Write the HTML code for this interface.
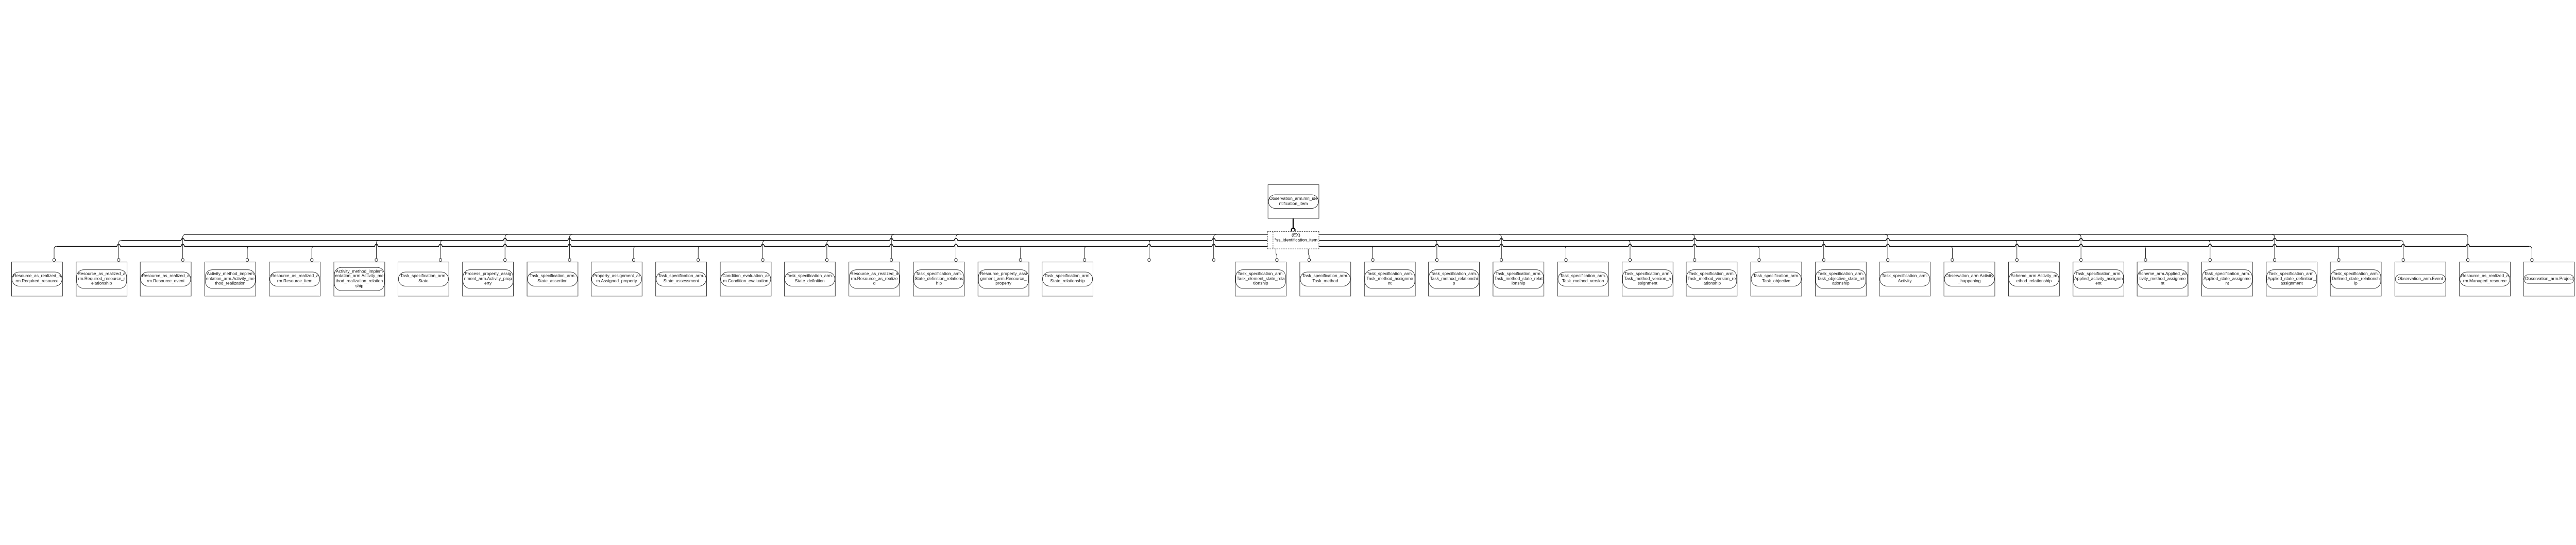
<!DOCTYPE html>
<html><head><meta charset="utf-8">
<style>
html,body{margin:0;padding:0;background:#fff;overflow:hidden;}
#w{position:absolute;left:0;top:0;width:5667px;height:1058px;transform-origin:0 0;font-family:"Liberation Sans",Arial,sans-serif;}
.b{position:absolute;top:576px;width:113px;height:76px;border:1px solid #222;box-sizing:border-box;display:flex;align-items:center;background:#fff;}
.p{width:100%;border:1px solid #222;border-radius:16px;box-sizing:border-box;font-size:9.5px;line-height:10.7px;text-align:center;word-break:break-all;padding:4px 1px;color:#111;}
svg{position:absolute;left:0;top:0;}
.dash{position:absolute;left:2788px;top:509px;width:114px;height:39px;border:1px dashed #444;box-sizing:border-box;font-size:9.5px;line-height:11px;text-align:center;word-break:break-all;padding:2px 2px 0 14px;background:#fff;}
.dash:before{content:"";position:absolute;left:11px;top:0;bottom:0;border-left:1px dashed #444;}
</style></head><body>
<div id="w">
<svg id="s" width="5667" height="1058"></svg>

<div class="b" style="left:2789px;top:406px;height:75px"><div class="p">Observation_arm.mri_identification_item</div></div>
<div class="dash">(EX)<br>*ss_identification_item</div>

<div class="b" style="left:25px"><div class="p">Resource_as_realized_arm.Required_resource</div></div>
<div class="b" style="left:167px"><div class="p">Resource_as_realized_arm.Required_resource_relationship</div></div>
<div class="b" style="left:308px"><div class="p">Resource_as_realized_arm.Resource_event</div></div>
<div class="b" style="left:450px"><div class="p">Activity_method_implementation_arm.Activity_method_realization</div></div>
<div class="b" style="left:592px"><div class="p">Resource_as_realized_arm.Resource_item</div></div>
<div class="b" style="left:734px"><div class="p">Activity_method_implementation_arm.Activity_method_realization_relationship</div></div>
<div class="b" style="left:875px"><div class="p">Task_specification_arm.State</div></div>
<div class="b" style="left:1017px"><div class="p">Process_property_assignment_arm.Activity_property</div></div>
<div class="b" style="left:1159px"><div class="p">Task_specification_arm.State_assertion</div></div>
<div class="b" style="left:1300px"><div class="p">Property_assignment_arm.Assigned_property</div></div>
<div class="b" style="left:1442px"><div class="p">Task_specification_arm.State_assessment</div></div>
<div class="b" style="left:1584px"><div class="p">Condition_evaluation_arm.Condition_evaluation</div></div>
<div class="b" style="left:1725px"><div class="p">Task_specification_arm.State_definition</div></div>
<div class="b" style="left:1867px"><div class="p">Resource_as_realized_arm.Resource_as_realized</div></div>
<div class="b" style="left:2009px"><div class="p">Task_specification_arm.State_definition_relationship</div></div>
<div class="b" style="left:2151px"><div class="p">Resource_property_assignment_arm.Resource_property</div></div>
<div class="b" style="left:2292px"><div class="p">Task_specification_arm.State_relationship</div></div>

<div class="b" style="left:2717px"><div class="p">Task_specification_arm.Task_element_state_relationship</div></div>
<div class="b" style="left:2859px"><div class="p">Task_specification_arm.Task_method</div></div>
<div class="b" style="left:3001px"><div class="p">Task_specification_arm.Task_method_assignment</div></div>
<div class="b" style="left:3142px"><div class="p">Task_specification_arm.Task_method_relationship</div></div>
<div class="b" style="left:3284px"><div class="p">Task_specification_arm.Task_method_state_relationship</div></div>
<div class="b" style="left:3426px"><div class="p">Task_specification_arm.Task_method_version</div></div>
<div class="b" style="left:3568px"><div class="p">Task_specification_arm.Task_method_version_assignment</div></div>
<div class="b" style="left:3709px"><div class="p">Task_specification_arm.Task_method_version_relationship</div></div>
<div class="b" style="left:3851px"><div class="p">Task_specification_arm.Task_objective</div></div>
<div class="b" style="left:3993px"><div class="p">Task_specification_arm.Task_objective_state_relationship</div></div>
<div class="b" style="left:4134px"><div class="p">Task_specification_arm.Activity</div></div>
<div class="b" style="left:4276px"><div class="p">Observation_arm.Activity_happening</div></div>
<div class="b" style="left:4418px"><div class="p">Scheme_arm.Activity_method_relationship</div></div>
<div class="b" style="left:4560px"><div class="p">Task_specification_arm.Applied_activity_assignment</div></div>
<div class="b" style="left:4701px"><div class="p">Scheme_arm.Applied_activity_method_assignment</div></div>
<div class="b" style="left:4843px"><div class="p">Task_specification_arm.Applied_state_assignment</div></div>
<div class="b" style="left:4985px"><div class="p">Task_specification_arm.Applied_state_definition_assignment</div></div>
<div class="b" style="left:5126px"><div class="p">Task_specification_arm.Defined_state_relationship</div></div>
<div class="b" style="left:5268px"><div class="p">Observation_arm.Event</div></div>
<div class="b" style="left:5410px"><div class="p">Resource_as_realized_arm.Managed_resource</div></div>
<div class="b" style="left:5551px"><div class="p">Observation_arm.Project</div></div>
</div>

<script>
(function(){
var s=document.getElementById('s'),out='';
function P(d,w){out+='<path d="'+d+'" fill="none" stroke="#111" stroke-width="'+w+'"/>';}
var Y=[516,529,542];
var asg={0:2,1:1,2:0,3:2,4:2,5:1,6:1,7:0,8:0,9:2,10:2,11:1,12:1,13:0,14:0,15:2,16:2,17:1,18:0,
21:2,22:1,23:0,24:2,25:1,26:0,27:2,28:1,29:0,30:2,31:1,32:0,33:2,34:1,35:0,36:2,37:1,38:0,39:2};
var conns=[];
for(var k in asg){var i=+k;var L=Math.round(25+i*141.7);var cx=i<=18?L+94:L+19;conns.push({x:cx,l:asg[k],left:i<=18});}
conns.forEach(function(c){var y=Y[c.l];var dir=c.left?1:-1;
 P('M'+c.x+' 568.5 L'+c.x+' '+(y+6)+' Q'+c.x+' '+y+' '+(c.x+6*dir)+' '+y,1);
 out+='<ellipse cx="'+c.x+'" cy="572" rx="3" ry="3.5" fill="#fff" stroke="#111" stroke-width="1"/>';});
[0,1,2].forEach(function(l){
 var w=l==0?1.1:1.7;
 ['L','R'].forEach(function(side){
  var mine=conns.filter(function(c){return c.l==l&&(side=='L'?c.left:!c.left);});
  if(!mine.length)return;
  var xs=mine.map(function(c){return c.x;});
  var y=Y[l],start,end;
  if(side=='L'){start=Math.min.apply(null,xs)+6;end=2788;}else{start=2902;end=Math.max.apply(null,xs)-6;}
  var cr=conns.filter(function(c){return c.l<l&&c.x>start+4&&c.x<end-4;}).map(function(c){return c.x;}).sort(function(a,b){return a-b;});
  var d='M'+start+' '+y;
  cr.forEach(function(x){d+=' L'+(x-4)+' '+y+' Q'+x+' '+(y-10)+' '+(x+4)+' '+y;});
  d+=' L'+end+' '+y;P(d,w);
 });
});
P('M2845 481 L2845 502',3);
out+='<circle cx="2845" cy="506" r="4" fill="#fff" stroke="#000" stroke-width="2.5"/>';
[2809,2880].forEach(function(x){P('M'+(x-2)+' 548 L'+(x-2)+' 556 Q'+(x-2)+' 560 '+x+' 562 L'+x+' 568.5',1);
 out+='<ellipse cx="'+x+'" cy="572" rx="3" ry="3.5" fill="#fff" stroke="#111" stroke-width="1"/>';});
s.innerHTML=out;
function fit(){var w=document.documentElement.clientWidth||window.innerWidth;
 var sx=w/5667;if(!(sx>0))sx=1;
 if(Math.abs(sx-1)<0.01){document.getElementById('w').style.transform='';return;}
 document.getElementById('w').style.transform='scale('+sx+')';}
fit();window.addEventListener('resize',fit);
})();
</script>
</body></html>
